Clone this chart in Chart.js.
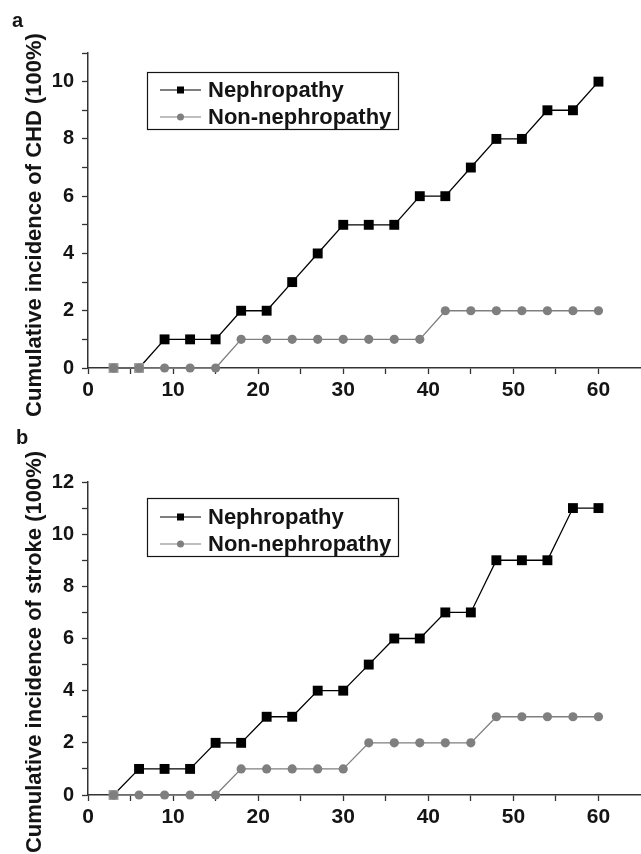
<!DOCTYPE html>
<html>
<head>
<meta charset="utf-8">
<script src="https://cdn.jsdelivr.net/npm/chart.js@4/dist/chart.umd.min.js"></script>
<style>
  body { margin: 0; background: #fff; }
  #wrap { position: relative; width: 641px; height: 854px; overflow: hidden; }
  .panel { position: absolute; left: 0; width: 641px; }
</style>
</head>
<body>
<div id="wrap">
  <div class="panel" style="top:0;height:420px;"><canvas id="chd" width="641" height="420"></canvas></div>
  <div class="panel" style="top:420px;height:434px;"><canvas id="stroke" width="641" height="434"></canvas></div>
</div>
<script>
// follow-up months
const months = [3, 6, 9, 12, 15, 18, 21, 24, 27, 30, 33, 36, 39, 42, 45, 48, 51, 54, 57, 60];

// panel a: CHD
const chdNephropathy    = [0, 0, 1, 1, 1, 2, 2, 3, 4, 5, 5, 5, 6, 6, 7, 8, 8, 9, 9, 10];
const chdNonNephropathy = [0, 0, 0, 0, 0, 1, 1, 1, 1, 1, 1, 1, 1, 2, 2, 2, 2, 2, 2, 2];

// panel b: stroke
const strokeNephropathy    = [0, 1, 1, 1, 2, 2, 3, 3, 4, 4, 5, 6, 6, 7, 7, 9, 9, 9, 11, 11];
const strokeNonNephropathy = [0, 0, 0, 0, 0, 1, 1, 1, 1, 1, 2, 2, 2, 2, 2, 3, 3, 3, 3, 3];

const seriesNames = ['Nephropathy', 'Non-nephropathy'];
const xTicks = [0, 5, 10, 15, 20, 25, 30, 35, 40, 45, 50, 55, 60];

const INK = '#141414';
const GREY = '#7f7f7f';
const FONT = '"Liberation Sans", Arial, sans-serif';

function toPoints(vals) {
  return vals.map((v, i) => ({ x: months[i], y: v }));
}

// legend with a framed box and line+marker samples, drawn after the datasets
const boxLegend = {
  id: 'boxLegend',
  afterDraw(chart, args, opts) {
    const ctx = chart.ctx;
    const { x, y, w, h, rows } = opts;
    ctx.save();
    ctx.strokeStyle = INK;
    ctx.lineWidth = 1.2;
    ctx.strokeRect(x + 0.5, y + 0.5, w, h);
    chart.data.datasets.forEach((ds, i) => {
      const cy = y + rows[i];
      ctx.strokeStyle = ds.borderColor;
      ctx.lineWidth = 1.2;
      ctx.beginPath();
      ctx.moveTo(x + 13, cy);
      ctx.lineTo(x + 54, cy);
      ctx.stroke();
      ctx.fillStyle = ds.borderColor;
      if (ds.pointStyle === 'rect') {
        ctx.fillRect(x + 30, cy - 3.5, 7, 7);
      } else {
        ctx.beginPath();
        ctx.arc(x + 33.5, cy, 3.5, 0, Math.PI * 2);
        ctx.fill();
      }
      ctx.fillStyle = INK;
      ctx.font = 'bold 22px ' + FONT;
      ctx.textBaseline = 'middle';
      ctx.fillText(ds.label, x + 61, cy + 1);
    });
    ctx.restore();
  }
};

// rotated y title and panel letter, placed like the original figure
const sideText = {
  id: 'sideText',
  afterDraw(chart, args, opts) {
    const ctx = chart.ctx;
    ctx.save();
    ctx.fillStyle = INK;
    ctx.font = 'bold 20px ' + FONT;
    ctx.textBaseline = 'top';
    ctx.fillText(opts.letter, opts.letterX, opts.letterY);
    ctx.translate(opts.titleX, opts.titleY);
    ctx.rotate(-Math.PI / 2);
    ctx.font = 'bold 22px ' + FONT;
    ctx.textAlign = 'center';
    ctx.textBaseline = 'middle';
    ctx.fillText(opts.title, 0, 0);
    ctx.restore();
  }
};

function makeChart(id, nephro, nonNephro, yMax, top, axisFromBottom, legendBox, side) {
  return new Chart(document.getElementById(id), {
    type: 'line',
    data: {
      datasets: [
        {
          label: seriesNames[0],
          data: toPoints(nephro),
          borderColor: '#000',
          backgroundColor: '#000',
          borderWidth: 1.3,
          pointStyle: 'rect',
          pointRadius: 7,
          pointBorderWidth: 0,
          pointBackgroundColor: c => (c.raw && c.raw.y === 0 ? '#9a9a9a' : '#000'),
          tension: 0,
          order: 2
        },
        {
          label: seriesNames[1],
          data: toPoints(nonNephro),
          borderColor: GREY,
          backgroundColor: GREY,
          borderWidth: 1.3,
          pointStyle: 'circle',
          pointRadius: 4.6,
          pointBorderWidth: 0,
          tension: 0,
          order: 1
        }
      ]
    },
    options: {
      responsive: false,
      animation: false,
      clip: false,
      layout: { autoPadding: false, padding: { top: top, right: 0, left: 0, bottom: 0 } },
      plugins: {
        legend: { display: false },
        tooltip: { enabled: false },
        boxLegend: legendBox,
        sideText: side
      },
      scales: {
        x: {
          type: 'linear',
          min: 0,
          max: 65,
          afterBuildTicks: s => { s.ticks = xTicks.map(v => ({ value: v })); },
          afterFit: s => {
            s.height = axisFromBottom;
            s.paddingRight = 0;
            s.paddingLeft = 0;
          },
          border: { color: '#333', width: 1.5 },
          grid: { drawOnChartArea: false, tickLength: 6, tickColor: '#333', tickWidth: 1.3 },
          ticks: {
            autoSkip: false,
            maxRotation: 0,
            padding: 4,
            color: INK,
            font: { family: FONT, size: 21, weight: 'bold' },
            callback: v => (v % 10 === 0 ? v : '')
          }
        },
        y: {
          min: 0,
          max: yMax,
          afterBuildTicks: s => {
            const t = [];
            for (let v = 0; v <= yMax; v++) t.push({ value: v });
            s.ticks = t;
          },
          afterFit: s => { s.width = 88; },
          border: { color: '#333', width: 1.5 },
          grid: { drawOnChartArea: false, tickLength: 6, tickColor: '#333', tickWidth: 1.3 },
          ticks: {
            autoSkip: false,
            padding: 8,
            color: INK,
            font: { family: FONT, size: 20, weight: 'bold' },
            callback: v => (v % 2 === 0 ? v : '')
          }
        }
      }
    },
    plugins: [boxLegend, sideText]
  });
}

makeChart('chd', chdNephropathy, chdNonNephropathy, 11, 53, 52,
  { x: 147, y: 72, w: 251, h: 57, rows: [18, 45] },
  { letter: 'a', letterX: 12, letterY: 11, title: 'Cumulative incidence of CHD (100%)', titleX: 35, titleY: 225 });

makeChart('stroke', strokeNephropathy, strokeNonNephropathy, 12, 62, 59,
  { x: 147, y: 78, w: 251, h: 58, rows: [19, 46] },
  { letter: 'b', letterX: 16, letterY: 8, title: 'Cumulative incidence of stroke (100%)', titleX: 35, titleY: 232 });
</script>
</body>
</html>
